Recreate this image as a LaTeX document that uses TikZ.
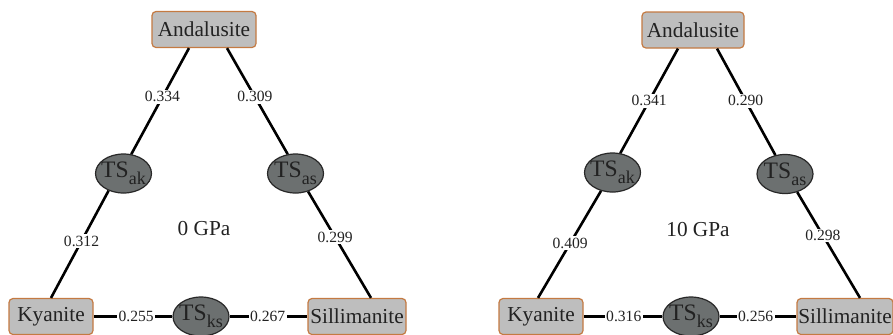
\documentclass[tikz,border=0pt]{standalone}
\usepackage{fontspec}
\setmainfont{Liberation Serif}
\usetikzlibrary{shapes.geometric,calc}
\definecolor{boxfill}{RGB}{190,190,190}
\definecolor{boxborder}{RGB}{196,122,66}
\definecolor{tsfill}{RGB}{108,112,112}
\definecolor{tsborder}{RGB}{40,40,40}
\definecolor{textc}{RGB}{34,34,34}
\newcommand\mymainf{\fontsize{10.65}{12}\selectfont}
\newcommand\mytsf{\fontsize{11.8}{13}\selectfont}
\newcommand\myvalf{\fontsize{7.8}{9}\selectfont}
\newcommand\tssub[1]{\raisebox{-3.4pt}{\fontsize{9}{9}\selectfont #1}}
\begin{document}
\begin{tikzpicture}[x=0.5pt,y=-0.5pt,
  mineral/.style={draw=boxborder, fill=boxfill, rounded corners=2pt, line width=0.6pt,
    minimum height=18pt, inner sep=0pt, text=textc, font=\mymainf},
  ts/.style={ellipse, draw=tsborder, fill=tsfill, line width=0.6pt,
    minimum width=28pt, minimum height=19.5pt, inner xsep=-1.5pt, inner ysep=0pt,
    text=textc, font=\mytsf},
  link/.style={line width=1.3pt, black},
  val/.style={fill=white, inner sep=0.8pt, font=\myvalf, text=textc},
  gpa/.style={font=\mymainf, text=textc, inner sep=0pt}
]
\useasboundingbox (0,0) rectangle (893,334);

% ---------- left panel (0 GPa) ----------
\node[mineral, minimum width=52pt] (andL) at (204,29.5) {Andalusite};
\node[mineral, minimum width=42pt] (kyL) at (51,316.5) {Kyanite};
\node[mineral, minimum width=49pt] (silL) at (357,316.5) {Sillimanite};
\node[ts] (tsakL) at (123.5,173.5) {TS\tssub{ak}};
\node[ts] (tsasL) at (295.5,173.5) {TS\tssub{as}};
\node[ts] (tsksL) at (201,316.5) {TS\tssub{ks}};
\node[gpa] (pL) at (204,229) {0 GPa};

\draw[link] ($(andL.south)+(-15,0)$) -- node[val,pos=0.46]{0.334} (tsakL.68);
\draw[link] (tsakL.229) -- node[val,pos=0.47]{0.312} (kyL.north);
\draw[link] ($(andL.south)+(23,0)$) -- node[val,pos=0.46]{0.309} (tsasL.112);
\draw[link] (tsasL.305) -- node[val,pos=0.43]{0.299} ($(silL.north)+(14,0)$);
\draw[link] (kyL.east) -- node[val,pos=0.54]{0.255} (tsksL.west);
\draw[link] (tsksL.east) -- node[val,pos=0.49]{0.267} (silL.west);

% ---------- right panel (10 GPa) ----------
\node[mineral, minimum width=51pt] (andR) at (693,30) {Andalusite};
\node[mineral, minimum width=42pt] (kyR) at (541,316.5) {Kyanite};
\node[mineral, minimum width=48pt] (silR) at (845,316.5) {Sillimanite};
\node[ts] (tsakR) at (612.5,172.5) {TS\tssub{ak}};
\node[ts] (tsasR) at (785,174) {TS\tssub{as}};
\node[ts] (tsksR) at (691,316.5) {TS\tssub{ks}};
\node[gpa] (pR) at (698,230) {10 GPa};

\draw[link] ($(andR.south)+(-15,0)$) -- node[val,pos=0.50]{0.341} (tsakR.68);
\draw[link] (tsakR.238) -- node[val,pos=0.49]{0.409} ($(kyR.north)+(-3,0)$);
\draw[link] ($(andR.south)+(24,0)$) -- node[val,pos=0.49]{0.290} (tsasR.117);
\draw[link] (tsasR.304) -- node[val,pos=0.41]{0.298} ($(silR.north)+(15,0)$);
\draw[link] (kyR.east) -- node[val,pos=0.51]{0.316} (tsksR.west);
\draw[link] (tsksR.east) -- node[val,pos=0.47]{0.256} (silR.west);
\end{tikzpicture}
\end{document}
